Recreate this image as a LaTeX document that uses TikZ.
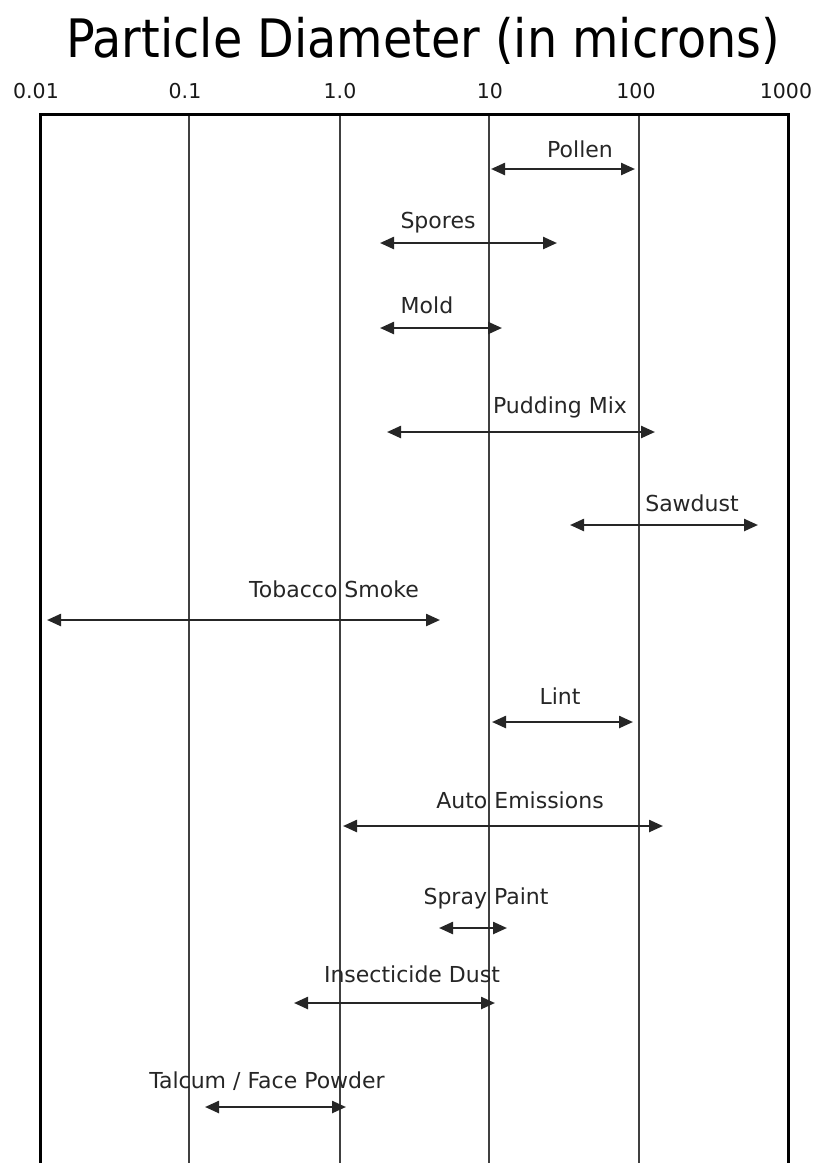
\documentclass[tikz,border=0pt]{standalone}
\usepackage{fontspec}
\setmainfont{DejaVu Sans}
\newfontfamily\titlefont[FakeStretch=0.9]{DejaVu Sans}
\usetikzlibrary{arrows.meta}
\begin{document}
\begin{tikzpicture}[x=1pt,y=-1pt,
  gridline/.style={line width=1.6pt, draw=black!75},
  frameline/.style={line width=3pt, draw=black},
  spanarrow/.style={line width=2.4pt, draw=black!85,
    {Triangle[length=14pt,width=12pt]}-{Triangle[length=14pt,width=12pt]}},
  lab/.style={font=\fontsize{22}{22}\selectfont, text=black!85, inner sep=0pt, anchor=base},
  tick/.style={font=\fontsize{20.5}{20.5}\selectfont, text=black!90, inner sep=0pt, anchor=base}]
\useasboundingbox (0,0) rectangle (817,1163);
\fill[white] (0,0) rectangle (817,1163);

% title
\node[font=\titlefont\fontsize{53}{53}\selectfont, inner sep=0pt, anchor=base] (title) at (423,57) {Particle Diameter (in microns)};

% tick labels
\node[tick] (t1) at (36,98) {0.01};
\node[tick] (t2) at (185,98) {0.1};
\node[tick] (t3) at (340,98) {1.0};
\node[tick] (t4) at (490,98) {10};
\node[tick] (t5) at (636,98) {100};
\node[tick] (t6) at (786,98) {1000};

% grid
\coordinate (g1t) at (189,114); \coordinate (g1b) at (189,1163);
\coordinate (g2t) at (340,114); \coordinate (g2b) at (340,1163);
\coordinate (g3t) at (489,114); \coordinate (g3b) at (489,1163);
\coordinate (g4t) at (639,114); \coordinate (g4b) at (639,1163);
\draw[gridline] (g1t) -- (g1b);
\draw[gridline] (g2t) -- (g2b);
\draw[gridline] (g3t) -- (g3b);
\draw[gridline] (g4t) -- (g4b);
\coordinate (fl) at (40,1163); \coordinate (ftl) at (40,114);
\coordinate (ftr) at (788,114); \coordinate (fr) at (788,1163);
\draw[frameline] (fl) -- (ftl) -- (ftr) -- (fr);

% labels
\node[lab] (pollen) at (580,157) {Pollen};
\node[lab] (spores) at (438,228) {Spores};
\node[lab] (mold) at (427,313) {Mold};
\node[lab] (pudding) at (560,413) {Pudding Mix};
\node[lab] (sawdust) at (692,511) {Sawdust};
\node[lab] (tobacco) at (334,597) {Tobacco Smoke};
\node[lab] (lint) at (560,704) {Lint};
\node[lab] (auto) at (520,808) {Auto Emissions};
\node[lab] (spray) at (486,904) {Spray Paint};
\node[lab] (insect) at (412,982) {Insecticide Dust};
\node[lab] (talcum) at (267,1088) {Talcum / Face Powder};

% ranges
\coordinate (a1) at (491,169); \coordinate (b1) at (635,169);
\coordinate (a2) at (380,243); \coordinate (b2) at (557,243);
\coordinate (a3) at (380,328); \coordinate (b3) at (502,328);
\coordinate (a4) at (387,432); \coordinate (b4) at (655,432);
\coordinate (a5) at (570,525); \coordinate (b5) at (758,525);
\coordinate (a6) at (47,620); \coordinate (b6) at (440,620);
\coordinate (a7) at (492,722); \coordinate (b7) at (633,722);
\coordinate (a8) at (343,826); \coordinate (b8) at (663,826);
\coordinate (a9) at (439,928); \coordinate (b9) at (507,928);
\coordinate (a10) at (294,1003); \coordinate (b10) at (495,1003);
\coordinate (a11) at (205,1107); \coordinate (b11) at (346,1107);
\foreach \i in {1,...,11} {\draw[spanarrow] (a\i) -- (b\i);}
\end{tikzpicture}
\end{document}
